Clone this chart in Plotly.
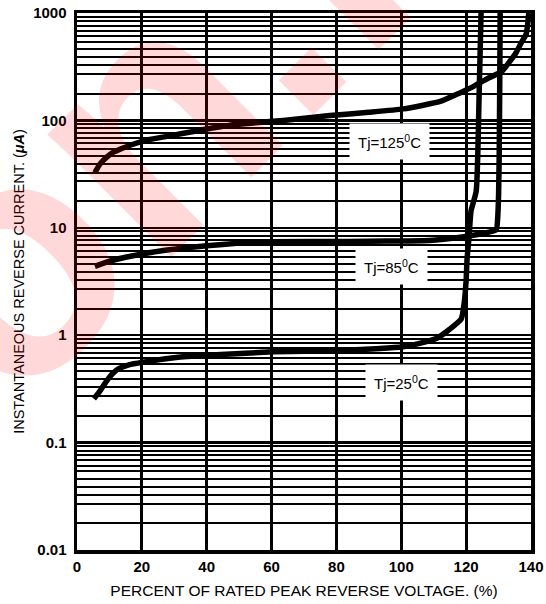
import math
import plotly.graph_objects as go

# ---- data ----
x_125 = [5.5, 7, 9, 11, 14, 17.3, 22, 27.8, 32, 38, 48.1, 55, 63.6, 78, 90, 100.6, 112, 118.2, 121.9, 126, 131.1, 133, 135.4, 137, 138.5, 139, 139.3]
y_125 = [32.6, 39, 45, 50, 55, 60, 66, 71, 75, 81, 91, 95, 100, 111, 119, 128, 150, 181, 204, 240, 288, 340, 427, 530, 634, 800, 1000]

x_85 = [5.5, 10, 17.3, 27.8, 40, 50, 56.5, 78, 90, 100.6, 108.6, 118.8, 124, 127, 129.3, 129.7, 130.0, 130.2, 130.35, 130.5]
y_85 = [4.37, 4.9, 5.5, 6.2, 6.8, 7.2, 7.4, 7.45, 7.5, 7.55, 7.6, 8.2, 8.7, 9.1, 9.6, 12, 20, 50, 200, 1000]

x_25 = [5.2, 7, 9, 11, 13, 16, 20.4, 30.6, 40, 60.5, 80.2, 100.6, 105, 110.8, 114.8, 118.5, 119.4, 120, 120.3, 120.9, 121.5, 123.1, 124, 124.6]
y_25 = [0.256, 0.30, 0.37, 0.44, 0.49, 0.53, 0.56, 0.62, 0.65, 0.70, 0.72, 0.78, 0.83, 0.93, 1.13, 1.42, 2.0, 3.25, 5.2, 8.2, 14.3, 22, 170, 1000]

y_ticks = [0.01, 0.1, 1, 10, 100, 1000]
y_ticktext = ["0.01", "0.1", "1", "10", "100", "1000"]
x_ticks = [0, 20, 40, 60, 80, 100, 120, 140]
minor_mults = [1.77, 2.7, 3.27, 3.89, 4.62, 5.4, 6.11, 6.85, 7.64, 8.43, 9.25]

labels = ["Tj=125<sup>0</sup>C", "Tj=85<sup>0</sup>C", "Tj=25<sup>0</sup>C"]
label_x = [96.5, 97, 100]
label_y = [64, 4.35, 0.36]

FONT = "Liberation Sans, Arial, sans-serif"
minor_vals = [m * 10 ** d for d in range(-2, 3) for m in minor_mults]

fig = go.Figure()
for xs, ys in [(x_125, y_125), (x_85, y_85), (x_25, y_25)]:
    fig.add_trace(go.Scatter(x=xs, y=ys, mode="lines",
                             line=dict(color="black", width=5.5, shape="spline", smoothing=0.5),
                             showlegend=False, hoverinfo="skip"))

for t, lx, ly in zip(labels, label_x, label_y):
    fig.add_annotation(x=lx, y=math.log10(ly), xref="x", yref="y", text=t,
                       showarrow=False, bgcolor="white", borderpad=8,
                       font=dict(family=FONT, size=15, color="black"))

# faint watermark
fig.add_annotation(x=0.137, y=0.786, xref="paper", yref="paper", text="on.l",
                   showarrow=False, textangle=-45, xanchor="center", yanchor="middle",
                   font=dict(family=FONT, size=330, color="rgba(255,0,0,0.15)", weight="bold"))

fig.update_xaxes(range=[0, 140], tickvals=x_ticks, showgrid=True, gridcolor="black",
                 gridwidth=3, showline=True, mirror=True, linecolor="black", linewidth=3.5,
                 zeroline=False, ticks="", automargin=False,
                 tickfont=dict(family=FONT, size=15, color="black", weight="bold"),
                 title=dict(text="PERCENT OF RATED PEAK REVERSE VOLTAGE. (%)", standoff=12,
                            font=dict(family=FONT, size=15.5, color="black")))
fig.update_yaxes(type="log", range=[-2, 3], tickvals=y_ticks, ticktext=y_ticktext,
                 showgrid=True, gridcolor="black", gridwidth=2.5,
                 minor=dict(tickmode="array", tickvals=minor_vals, showgrid=True,
                            gridcolor="black", gridwidth=2, ticks=""),
                 showline=True, mirror=True, linecolor="black", linewidth=3.5,
                 zeroline=False, ticks="", ticklabelstandoff=4, automargin=False,
                 tickfont=dict(family=FONT, size=15, color="black", weight="bold"),
                 title=dict(text="INSTANTANEOUS REVERSE CURRENT. (<b><i>μA</i></b>)", standoff=6,
                            font=dict(family=FONT, size=14.5, color="black")))

fig.update_layout(width=546, height=604,
                  margin=dict(l=77, r=15, t=13, b=54, autoexpand=False),
                  paper_bgcolor="white", plot_bgcolor="white")

fig.write_html("out.html", config={"displayModeBar": False, "staticPlot": True})

# remove the browser's default page margin so the figure sits at (0, 0)
with open("out.html", "r", encoding="utf-8") as f:
    html = f.read()
html = html.replace("<body>", '<body style="margin:0;padding:0;overflow:hidden">', 1)
with open("out.html", "w", encoding="utf-8") as f:
    f.write(html)
